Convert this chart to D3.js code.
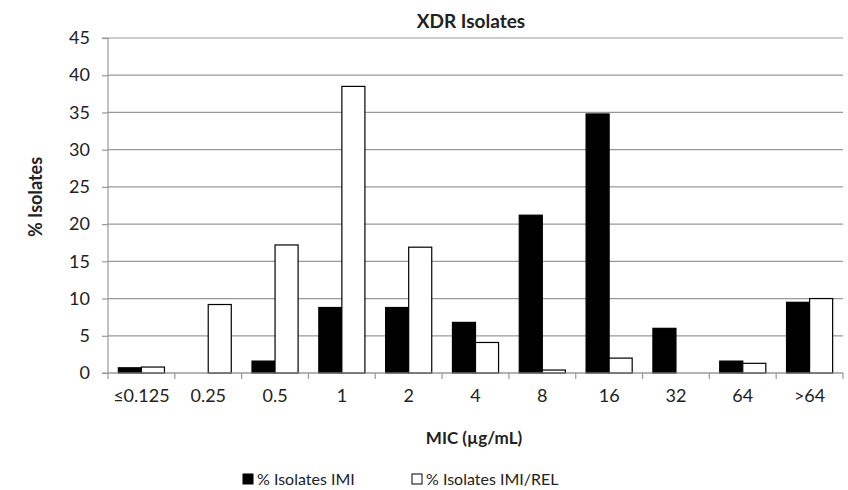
<!DOCTYPE html>
<html>
<head>
<meta charset="utf-8">
<script src="https://cdn.jsdelivr.net/npm/d3@7"></script>
<style>
body { margin: 0; background: #fff; }
</style>
</head>
<body>
<div class="chart"></div>
<script>
const width = 848
const height = 490
const margin = { top: 38, right: 5, left: 108, bottom: 117 }
const innerWidth = width - margin.left - margin.right
const innerHeight = height - margin.top - margin.bottom
const font = "Lato, 'Open Sans', sans-serif"

const categories = ["≤0.125", "0.25", "0.5", "1", "2", "4", "8", "16", "32", "64", ">64"]
const imi = [0.7, 0, 1.6, 8.8, 8.8, 6.8, 21.2, 34.8, 6.0, 1.6, 9.5]
const imiRel = [0.8, 9.2, 17.2, 38.5, 16.9, 4.1, 0.4, 2.0, 0, 1.3, 10.0]
const seriesNames = ["% Isolates IMI", "% Isolates IMI/REL"]
const seriesFill = ["#000", "#fff"]
const yTicks = [0, 5, 10, 15, 20, 25, 30, 35, 40, 45]

const data = categories.map((c, i) => ({ cat: c, values: [imi[i], imiRel[i]] }))

const svg = d3.select(".chart")
    .append("svg")
    .attr("width", width)
    .attr("height", height)
    .attr("font-family", font)

const g = svg.append("g")
    .attr("transform", "translate(" + margin.left + "," + margin.top + ")")

const x0 = d3.scaleBand()
    .domain(categories)
    .range([0, innerWidth])
    .paddingInner(0.31)
    .paddingOuter(0.155)

const x1 = d3.scaleBand()
    .domain([0, 1])
    .range([0, x0.bandwidth()])

const yScale = d3.scaleLinear()
    .domain([0, 45])
    .range([innerHeight, 0])

// gridlines
g.append("g")
    .selectAll("line")
    .data(yTicks)
    .join("line")
    .attr("x1", 0)
    .attr("x2", innerWidth)
    .attr("y1", d => yScale(d))
    .attr("y2", d => yScale(d))
    .attr("stroke", "#999")
    .attr("stroke-width", 1.2)

const yAxis = d3.axisLeft(yScale)
    .tickValues(yTicks)
    .tickSize(6)
    .tickPadding(12)

g.append("g")
    .attr("class", "y-axis")
    .call(yAxis)
    .attr("font-family", font)
    .attr("font-size", 18)
    .call(s => s.selectAll("line, path").attr("stroke", "#999").attr("stroke-width", 1.2))
    .call(s => s.select(".domain").attr("d", "M-6," + innerHeight + "H0V0H-6"))
    .selectAll("text")
        .attr("fill", "#222")

// bars
const groups = g.append("g")
    .selectAll("g")
    .data(data)
    .join("g")
    .attr("transform", d => "translate(" + x0(d.cat) + ",0)")

groups.selectAll("rect")
    .data(d => d.values.map((v, i) => ({ v: v, i: i })))
    .join("rect")
    .filter(d => d.v > 0)
    .attr("x", d => x1(d.i))
    .attr("y", d => yScale(d.v))
    .attr("width", x1.bandwidth())
    .attr("height", d => innerHeight - yScale(d.v))
    .attr("fill", d => seriesFill[d.i])
    .attr("stroke", "#000")
    .attr("stroke-width", 1.2)

// x axis with ticks at category boundaries
const step = x0.step()
g.append("line")
    .attr("x1", 0)
    .attr("x2", innerWidth)
    .attr("y1", innerHeight)
    .attr("y2", innerHeight)
    .attr("stroke", "#999")
    .attr("stroke-width", 1.2)

g.append("g")
    .selectAll("line")
    .data(d3.range(categories.length + 1))
    .join("line")
    .attr("x1", i => i * step)
    .attr("x2", i => i * step)
    .attr("y1", innerHeight)
    .attr("y2", innerHeight + 6)
    .attr("stroke", "#999")
    .attr("stroke-width", 1.2)

g.append("g")
    .selectAll("text")
    .data(categories)
    .join("text")
    .attr("x", d => x0(d) + x0.bandwidth() / 2)
    .attr("y", innerHeight + 29)
    .attr("text-anchor", "middle")
    .attr("font-size", 18)
    .attr("fill", "#222")
    .text(d => d)

// titles
svg.append("text")
    .attr("x", 471)
    .attr("y", 28)
    .attr("text-anchor", "middle")
    .attr("font-size", 19)
    .attr("font-weight", "bold")
    .attr("fill", "#222")
    .text("XDR Isolates")

svg.append("text")
    .attr("x", 474)
    .attr("y", 444)
    .attr("text-anchor", "middle")
    .attr("font-size", 17)
    .attr("font-weight", "bold")
    .attr("fill", "#222")
    .text("MIC (µg/mL)")

svg.append("text")
    .attr("transform", "translate(42,197) rotate(-90)")
    .attr("text-anchor", "middle")
    .attr("font-size", 18)
    .attr("font-weight", "bold")
    .attr("fill", "#222")
    .text("% Isolates")

// legend
const legendX = [243, 412]
const legend = svg.append("g")
    .selectAll("g")
    .data(seriesNames)
    .join("g")
    .attr("transform", (d, i) => "translate(" + legendX[i] + ",474)")

legend.append("rect")
    .attr("width", 10)
    .attr("height", 10)
    .attr("fill", (d, i) => seriesFill[i])
    .attr("stroke", "#000")
    .attr("stroke-width", 1)

legend.append("text")
    .attr("x", 14)
    .attr("y", 11)
    .attr("font-size", 16)
    .attr("fill", "#222")
    .text(d => d)
</script>
</body>
</html>
